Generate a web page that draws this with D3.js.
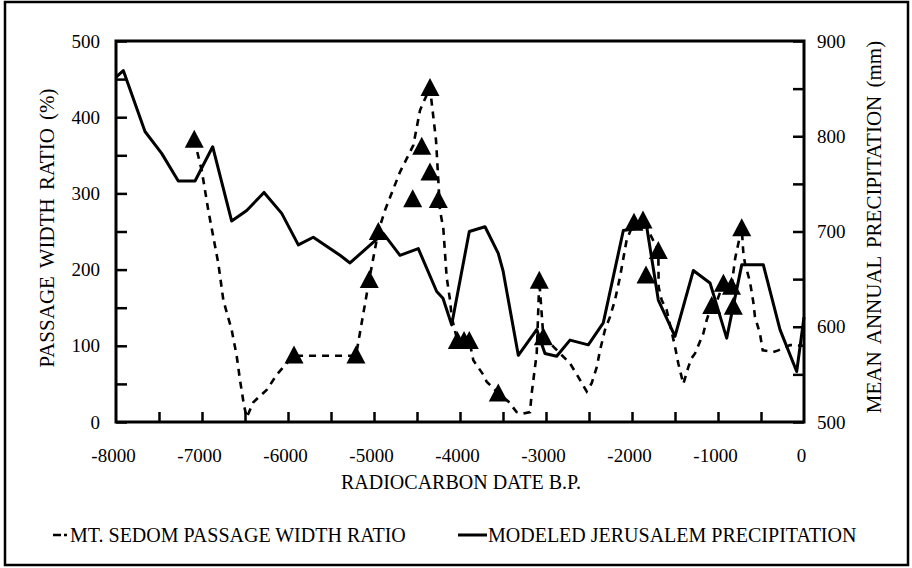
<!DOCTYPE html>
<html>
<head>
<meta charset="utf-8">
<script src="https://cdn.jsdelivr.net/npm/d3@7"></script>
<style>
  html, body { margin: 0; padding: 0; background: #fff; }
  svg { display: block; }
  text { font-family: "Liberation Serif", "Times New Roman", serif; fill: #000; }
</style>
</head>
<body>
<svg id="chart" width="912" height="568"></svg>
<script>
// Modeled Jerusalem precipitation (mm) by radiocarbon date B.P.
const precipYears = [-8000,-7915,-7663,-7469,-7276,-7081,-6876,-6655,-6480,-6279,-6073,-5880,-5706,-5395,-5279,-4892,-4698,-4485,-4271,-4198,-4097,-3892,-3709,-3555,-3500,-3322,-3108,-3012,-2876,-2721,-2508,-2334,-2101,-1829,-1694,-1500,-1287,-1093,-899,-724,-473,-279,-85,0];
const precipValues = [862,869,805,782,753,753,789,711,722,741,719,686,694,675,667,698,675,682,637,630,602,700,705,677,659,570,597,572,569,586,581,604,701,705,628,590,659,646,588,665,665,597,553,610];

// Mt. Sedom passage width ratio (%) — continuous record
const sedomYears = [-7090,-7003,-6927,-6887,-6810,-6752,-6713,-6655,-6597,-6558,-6512,-6480,-6403,-6248,-6131,-6055,-5930,-5210,-5055,-4950,-4872,-4698,-4543,-4465,-4349,-4328,-4279,-4252,-4233,-4194,-4155,-4116,-4097,-4031,-3953,-3892,-3845,-3729,-3690,-3555,-3438,-3341,-3264,-3186,-3166,-3128,-3108,-3090,-3078,-3031,-2915,-2837,-2721,-2624,-2527,-2469,-2410,-2372,-2314,-2256,-2198,-2140,-2062,-1977,-1872,-1694,-1690,-1655,-1597,-1500,-1462,-1403,-1345,-1306,-1267,-1171,-1131,-1073,-1015,-937,-843,-800,-724,-705,-686,-628,-589,-570,-512,-480,-357,-299,-163,0];
const sedomRatios = [371,330,278,254,208,160,144,121,87,55,22,6,26,42,62,72,87,87,187,250,278,328,363,409,439,418,370,317,278,254,190,160,138,107,107,107,81,62,53,38,27,13,11,13,38,72,90,147,186,112,99,90,77,59,40,51,72,94,121,138,160,190,239,262,265,225,177,160,147,99,77,50,72,84,90,116,134,153,158,182,178,215,255,221,208,184,157,138,116,94,92,94,101,100];

// Dated samples (triangles)
const sampleYears = [-7090,-5930,-5210,-5055,-4950,-4550,-4445,-4349,-4349,-4252,-4031,-3953,-3892,-3555,-3078,-3031,-1977,-1872,-1837,-1694,-1073,-937,-843,-822,-724];
const sampleRatios = [371,88,88,187,250,293,362,439,328,292,107,107,107,38,186,112,262,265,193,225,153,182,178,152,255];

// Axis ticks and labels
const xMinorTicks = d3.range(-7500, 0, 500);
const xLabelTicks = [-8000,-7000,-6000,-5000,-4000,-3000,-2000,-1000,0];
const leftMinorTicks = d3.range(0, 501, 50);
const leftLabelTicks = [0,100,200,300,400,500];
const rightMinorTicks = d3.range(500, 901, 50);
const rightLabelTicks = [500,600,700,800,900];

const FONT = "'Liberation Serif', 'Times New Roman', serif";
const svg = d3.select("#chart");
const x = d3.scaleLinear().domain([-8000, 0]).range([116, 804]);
const yL = d3.scaleLinear().domain([0, 500]).range([422, 41]);
const yR = d3.scaleLinear().domain([500, 900]).range([422, 41]);

// Outer frame
svg.append("rect")
  .attr("x", 5).attr("y", 2).attr("width", 903).attr("height", 563)
  .attr("fill", "none").attr("stroke", "#000").attr("stroke-width", 2.5);

// Lines
const precipLine = d3.line().x((d, i) => x(precipYears[i])).y(d => yR(d));
svg.append("path")
  .attr("d", precipLine(precipValues))
  .attr("fill", "none").attr("stroke", "#000").attr("stroke-width", 3)
  .attr("stroke-linejoin", "round");

const sedomLine = d3.line().x((d, i) => x(sedomYears[i])).y(d => yL(d));
svg.append("path")
  .attr("d", sedomLine(sedomRatios))
  .attr("fill", "none").attr("stroke", "#000").attr("stroke-width", 2.6)
  .attr("stroke-dasharray", "7,6");

// Sample triangles
const tri = (cx, cy) => `M${cx},${cy - 9.5}L${cx + 9.5},${cy + 8.5}L${cx - 9.5},${cy + 8.5}Z`;
svg.append("g").selectAll("path")
  .data(sampleRatios)
  .join("path")
  .attr("d", (d, i) => tri(x(sampleYears[i]), yL(d)))
  .attr("fill", "#000");

// Axes: inward ticks, plain hyphen for negatives
const plain = d => String(d);
const styleAxis = g => {
  g.attr("font-family", FONT).attr("font-size", 19);
  g.select(".domain").remove();
  g.selectAll("line").attr("stroke", "#000").attr("stroke-width", 2.5);
  g.selectAll("text").attr("fill", "#000");
};

svg.append("g").attr("transform", `translate(0,${yL(0)})`)
  .call(d3.axisBottom(x).tickValues(xMinorTicks).tickSize(-10).tickFormat(""))
  .call(styleAxis);
svg.append("g").attr("transform", `translate(-3,${yL(0)})`)
  .call(d3.axisBottom(x).tickValues(xLabelTicks).tickSize(0).tickPadding(27).tickFormat(plain))
  .call(styleAxis);

svg.append("g").attr("transform", `translate(${x(-8000)},0)`)
  .call(d3.axisLeft(yL).tickValues(leftMinorTicks).tickSize(-11).tickFormat(""))
  .call(styleAxis);
svg.append("g").attr("transform", `translate(${x(-8000)},0)`)
  .call(d3.axisLeft(yL).tickValues(leftLabelTicks).tickSize(0).tickPadding(16).tickFormat(plain))
  .call(styleAxis);

svg.append("g").attr("transform", `translate(${x(0)},0)`)
  .call(d3.axisRight(yR).tickValues(rightMinorTicks).tickSize(-11).tickFormat(""))
  .call(styleAxis);
svg.append("g").attr("transform", `translate(${x(0)},0)`)
  .call(d3.axisRight(yR).tickValues(rightLabelTicks).tickSize(0).tickPadding(13).tickFormat(plain))
  .call(styleAxis);

// Plot frame
svg.append("rect")
  .attr("x", x(-8000)).attr("y", yL(500))
  .attr("width", x(0) - x(-8000)).attr("height", yL(0) - yL(500))
  .attr("fill", "none").attr("stroke", "#000").attr("stroke-width", 3);

// Axis titles
svg.append("text")
  .attr("x", 461).attr("y", 489).attr("text-anchor", "middle")
  .attr("font-size", 20).text("RADIOCARBON DATE B.P.");

svg.append("text")
  .attr("transform", "translate(54,228) rotate(-90)")
  .attr("text-anchor", "middle").attr("font-size", 21)
  .style("word-spacing", "3px")
  .text("PASSAGE WIDTH RATIO (%)");

svg.append("text")
  .attr("transform", "translate(881,227) rotate(-90)")
  .attr("text-anchor", "middle").attr("font-size", 21)
  .style("word-spacing", "3px")
  .text("MEAN ANNUAL PRECIPITATION (mm)");

// Legend
svg.append("line")
  .attr("x1", 53).attr("x2", 67).attr("y1", 535).attr("y2", 535)
  .attr("stroke", "#000").attr("stroke-width", 2.5).attr("stroke-dasharray", "8,3,3,3");
svg.append("text").attr("x", 70).attr("y", 542).attr("font-size", 20)
  .text("MT. SEDOM PASSAGE WIDTH RATIO");

svg.append("line")
  .attr("x1", 458).attr("x2", 487).attr("y1", 535).attr("y2", 535)
  .attr("stroke", "#000").attr("stroke-width", 3);
svg.append("text").attr("x", 488).attr("y", 542).attr("font-size", 20)
  .text("MODELED JERUSALEM PRECIPITATION");
</script>
</body>
</html>
